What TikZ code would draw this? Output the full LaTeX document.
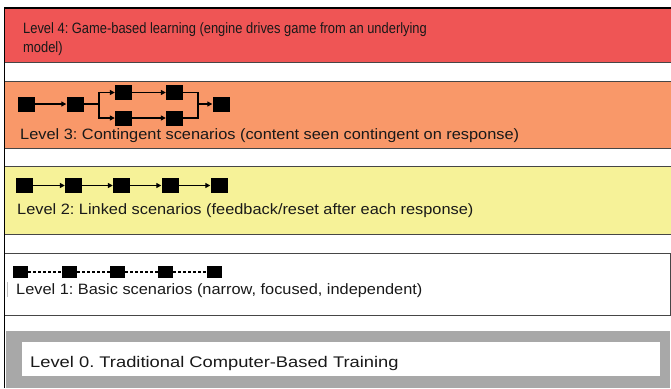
\documentclass[tikz,border=0pt]{standalone}
\usepackage{fontspec}
\setmainfont{Liberation Sans}
\newfontfamily\narrowsans[FakeStretch=0.86]{Liberation Sans}
\newfontfamily\widesans[FakeStretch=1.09]{Liberation Sans}
\newfontfamily\widersans[FakeStretch=1.19]{Liberation Sans}
\usetikzlibrary{arrows.meta}
\definecolor{lvlred}{RGB}{239,85,85}
\definecolor{lvlorange}{RGB}{249,152,105}
\definecolor{lvlyellow}{RGB}{246,242,152}
\definecolor{lvlgray}{RGB}{168,168,168}
\definecolor{rulegray}{RGB}{70,70,70}
\tikzset{
  band/.style={draw=rulegray, line width=1pt},
  lbl/.style={anchor=base west, inner sep=0pt, text=black!90},
  midlbl/.style={lbl, font=\widesans\fontsize{15}{19}\selectfont},
  blk/.style={fill=black, draw=none, inner sep=0pt, minimum width=17pt, minimum height=15pt},
  blksmall/.style={fill=black, draw=none, inner sep=0pt, minimum width=15pt, minimum height=12pt},
  link/.style={line width=1.2pt, -{Triangle[length=5pt,width=5pt]}},
  plain/.style={line width=1.2pt},
  dashlink/.style={line width=1.1pt, dash pattern=on 3pt off 2pt},
}
\begin{document}
\frenchspacing
\begin{tikzpicture}[x=1pt, y=-1pt]
\useasboundingbox (0,0) rectangle (671,388);
\fill[white] (0,0) rectangle (671,388);

% level bands
\fill[lvlred] (4.5,8.5) rectangle (671,62);
\draw[band] (671,62) -- (4.5,62);
\draw[line width=2pt, black] (4.5,8) -- (671,8);

\fill[lvlorange] (4.5,81) rectangle (671,148);
\draw[band] (671,81) -- (4.5,81);
\draw[band] (671,148) -- (4.5,148);

\fill[lvlyellow] (4.5,166) rectangle (671,234);
\draw[band] (671,166) -- (4.5,166);
\draw[band] (671,234) -- (4.5,234);

\draw[band] (4.5,253) -- (670,253) -- (670,315) -- (4.5,315);

% level 0 panel
\fill[lvlgray] (6,331) rectangle (670,388);
\fill[white] (22,342) rectangle (660,376);

% outer left rule
\draw[line width=1.2pt, black] (4.5,7) -- (4.5,388);

% labels
\node[lbl, anchor=north west, align=left, font=\narrowsans\fontsize{15}{19.5}\selectfont] (t4) at (23,22.2)
  {Level 4: Game-based learning (engine drives game from an underlying\\model)};
\node[midlbl] (t3) at (20,139)
  {Level 3: Contingent scenarios (content seen contingent on response)};
\node[midlbl] (t2) at (17,214)
  {Level 2: Linked scenarios (feedback/reset after each response)};
\node[midlbl] (t1) at (16,294)
  {Level 1: Basic scenarios (narrow, focused, independent)};
\node[lbl, font=\widersans\fontsize{15.4}{20}\selectfont] (t0) at (30,367)
  {Level 0. Traditional Computer-Based Training};
\draw[black!25, line width=1pt] (7.5,282) -- (7.5,297);

% level 3: branching chain
\node[blk] (c1) at (26.5,104) {};
\node[blk] (c2) at (75,104) {};
\node[blk] (u1) at (123.5,92.5) {};
\node[blk] (d1) at (123.5,118) {};
\node[blk] (u2) at (174.5,92.5) {};
\node[blk] (d2) at (174.5,118) {};
\node[blk] (c3) at (221,104) {};
\coordinate (split) at (99,104);
\coordinate (join) at (198,104);
\draw[link] (c1) -- (c2);
\draw[plain] (c2.east) -- (split);
\draw[link] (split) |- (u1);
\draw[link] (split) |- (d1);
\draw[link] (u1) -- (u2);
\draw[link] (d1) -- (d2);
\draw[plain] (u2.east) -| (join);
\draw[plain] (d2.east) -| (join);
\draw[link] (join) -- (c3);

% level 2: linked chain
\foreach \i/\x in {1/24.5,2/73.5,3/121.5,4/170,5/219}
  \node[blk] (k\i) at (\x,185.5) {};
\foreach \a/\b in {1/2,2/3,3/4,4/5}
  \draw[link] (k\a) -- (k\b);

% level 1: independent items
\foreach \i/\x in {1/20.5,2/69.5,3/117.5,4/165.5,5/214.5}
  \node[blksmall] (m\i) at (\x,272) {};
\foreach \a/\b in {1/2,2/3,3/4,4/5}
  \draw[dashlink] (m\a) -- (m\b);
\end{tikzpicture}
\end{document}
